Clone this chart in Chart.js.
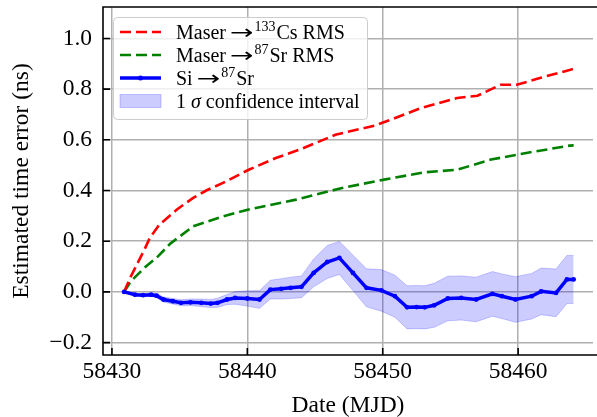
<!DOCTYPE html>
<html><head><meta charset="utf-8">
<script src="https://cdn.jsdelivr.net/npm/chart.js@4.4.0/dist/chart.umd.min.js"></script>
<style>html,body{margin:0;padding:0;overflow:hidden;background:#fff}canvas{display:block}</style>
</head><body><canvas id="c" width="597" height="417"></canvas>
<script>
// ---- data ----
const siDates  = [58430.9,58431.7,58432.3,58432.9,58433.3,58433.8,58434.5,58435.1,58435.8,58436.6,58437.3,58437.8,58438.5,58439.1,58440.0,58440.9,58441.7,58442.5,58443.2,58444.0,58444.9,58445.9,58446.8,58447.8,58448.8,58449.9,58450.9,58451.8,58452.5,58453.1,58453.8,58454.8,58455.8,58456.9,58458.1,58458.8,58459.8,58461.0,58461.7,58462.8,58463.6,58464.1];
const siValues = [0.000,-0.011,-0.013,-0.011,-0.015,-0.030,-0.037,-0.043,-0.041,-0.043,-0.046,-0.043,-0.030,-0.024,-0.026,-0.030,0.009,0.012,0.016,0.020,0.075,0.118,0.134,0.075,0.016,0.006,-0.017,-0.061,-0.060,-0.061,-0.053,-0.026,-0.024,-0.030,-0.008,-0.017,-0.030,-0.017,0.002,-0.004,0.049,0.049];
const ciUpper  = [0.000,-0.006,-0.007,-0.004,-0.007,-0.020,-0.026,-0.031,-0.028,-0.028,-0.030,-0.025,-0.010,0.001,0.004,0.005,0.046,0.052,0.058,0.063,0.130,0.183,0.199,0.145,0.091,0.088,0.066,0.024,0.025,0.024,0.034,0.062,0.063,0.058,0.080,0.071,0.060,0.073,0.094,0.090,0.144,0.144];
const ciLower  = [0.000,-0.016,-0.019,-0.018,-0.023,-0.040,-0.048,-0.055,-0.054,-0.058,-0.062,-0.061,-0.050,-0.049,-0.056,-0.065,-0.028,-0.028,-0.026,-0.023,0.020,0.053,0.069,0.005,-0.059,-0.076,-0.100,-0.146,-0.145,-0.146,-0.140,-0.114,-0.111,-0.118,-0.096,-0.105,-0.120,-0.107,-0.090,-0.098,-0.046,-0.046];
const csDates  = [58430.9,58431.4,58431.9,58432.4,58432.8,58433.5,58434.8,58436.0,58437.0,58438.2,58440.1,58442.1,58444.0,58446.5,58449.4,58450.6,58452.8,58455.5,58457.0,58458.7,58459.9,58461.6,58463.8,58464.1];
const csRms    = [0.000,0.061,0.114,0.167,0.213,0.265,0.325,0.371,0.401,0.430,0.482,0.528,0.564,0.620,0.656,0.679,0.725,0.765,0.774,0.817,0.817,0.844,0.875,0.880];
const srDates  = [58430.9,58431.4,58432.4,58433.4,58434.3,58436.0,58438.2,58440.1,58443.6,58447.0,58450.1,58453.1,58455.5,58458.0,58460.6,58463.8,58464.1];
const srRms    = [0.000,0.042,0.095,0.140,0.190,0.259,0.298,0.325,0.364,0.410,0.443,0.472,0.482,0.522,0.548,0.577,0.578];
const xTicks = [58430, 58440, 58450, 58460];
const yTicks = [-0.2, 0.0, 0.2, 0.4, 0.6, 0.8, 1.0];

const FONT = "'Liberation Serif', 'Times New Roman', serif";
Chart.defaults.font.family = FONT;
Chart.defaults.color = '#000';

const pts = (xs, ys) => xs.map((x, i) => ({x: x, y: ys[i]}));
const BAND = 'rgba(0,0,255,0.2)';

function drawLegend(ctx) {
  ctx.save();
  const bx = 113.5, by = 17.5, bw = 254, bh = 102, r = 4;
  ctx.beginPath();
  ctx.moveTo(bx + r, by); ctx.lineTo(bx + bw - r, by); ctx.arcTo(bx + bw, by, bx + bw, by + r, r);
  ctx.lineTo(bx + bw, by + bh - r); ctx.arcTo(bx + bw, by + bh, bx + bw - r, by + bh, r);
  ctx.lineTo(bx + r, by + bh); ctx.arcTo(bx, by + bh, bx, by + bh - r, r);
  ctx.lineTo(bx, by + r); ctx.arcTo(bx, by, bx + r, by, r); ctx.closePath();
  ctx.fillStyle = 'rgba(255,255,255,0.8)'; ctx.fill();
  ctx.strokeStyle = '#cccccc'; ctx.lineWidth = 1; ctx.stroke();

  const hx1 = 120, hx2 = 161, tx = 176;
  const rows = [32, 55, 78, 101];
  ctx.lineWidth = 2.6; ctx.setLineDash([11, 5]);
  ctx.strokeStyle = 'red'; ctx.beginPath(); ctx.moveTo(hx1, rows[0]); ctx.lineTo(hx2, rows[0]); ctx.stroke();
  ctx.strokeStyle = 'green'; ctx.beginPath(); ctx.moveTo(hx1, rows[1]); ctx.lineTo(hx2, rows[1]); ctx.stroke();
  ctx.setLineDash([]);
  ctx.strokeStyle = 'blue'; ctx.lineWidth = 3.5; ctx.beginPath(); ctx.moveTo(hx1, rows[2]); ctx.lineTo(hx2, rows[2]); ctx.stroke();
  ctx.fillStyle = 'blue'; ctx.beginPath(); ctx.arc((hx1 + hx2) / 2, rows[2], 2.5, 0, Math.PI * 2); ctx.fill();
  ctx.fillStyle = BAND; ctx.strokeStyle = BAND; ctx.lineWidth = 1;
  ctx.fillRect(hx1, rows[3] - 6.5, hx2 - hx1, 13); ctx.strokeRect(hx1, rows[3] - 6.5, hx2 - hx1, 13);

  ctx.fillStyle = '#000'; ctx.textBaseline = 'alphabetic'; ctx.textAlign = 'left';
  const main = '20px ' + FONT, sup = '14px ' + FONT, ital = 'italic 20px ' + FONT;
  const arrowFont = "20px 'DejaVu Sans'";
  function seq(parts, y) {
    let x = tx;
    parts.forEach(p => {
      ctx.font = p[1];
      if (p[4]) {
        const w = ctx.measureText(p[0]).width;
        ctx.save(); ctx.translate(x, y + (p[2] || 0)); ctx.scale(p[4], 1);
        ctx.fillText(p[0], 0, 0); ctx.restore();
        x += w * p[4] + (p[3] || 0);
      } else {
        ctx.fillText(p[0], x, y + (p[2] || 0));
        x += ctx.measureText(p[0]).width + (p[3] || 0);
      }
    });
  }
  seq([['Maser', main, 0, 4], ['\u2192', arrowFont, 0, 1, 1.4], ['133', sup, -8.5, 1], ['Cs RMS', main]], rows[0] + 7);
  seq([['Maser', main, 0, 4], ['\u2192', arrowFont, 0, 1, 1.4], ['87', sup, -8.5, 1], ['Sr RMS', main]], rows[1] + 7);
  seq([['Si', main, 0, 4], ['\u2192', arrowFont, 0, 1, 1.4], ['87', sup, -8.5, 1], ['Sr', main]], rows[2] + 7);
  seq([['1 ', main], ['\u03c3', ital, 0, 0], [' confidence interval', main]], rows[3] + 7);
  ctx.restore();
}

const framePlugin = {
  id: 'frame',
  afterDatasetsDraw(chart) {
    const {ctx, chartArea: a, scales: {x, y}} = chart;
    ctx.save();
    ctx.strokeStyle = '#000'; ctx.lineWidth = 1.6;
    ctx.beginPath();
    x.ticks.forEach(t => { const px = x.getPixelForValue(t.value); ctx.moveTo(px, a.bottom); ctx.lineTo(px, a.bottom - 7); });
    y.ticks.forEach(t => { const py = y.getPixelForValue(t.value); ctx.moveTo(a.left, py); ctx.lineTo(a.left + 7, py); });
    // spines: top, left, bottom (the right spine lies just outside the visible window)
    ctx.moveTo(chart.width + 2, a.top); ctx.lineTo(a.left, a.top); ctx.lineTo(a.left, a.bottom); ctx.lineTo(chart.width + 2, a.bottom);
    ctx.stroke();
    ctx.restore();
    drawLegend(ctx);
  }
};

new Chart(document.getElementById('c'), {
  type: 'line',
  data: {
    datasets: [
      { label: 'Maser \u2192133Cs RMS', data: pts(csDates, csRms), borderColor: 'red', borderWidth: 2.6, borderDash: [11, 5], pointRadius: 0, fill: false, tension: 0, order: 2 },
      { label: 'Maser \u219287Sr RMS', data: pts(srDates, srRms), borderColor: 'green', borderWidth: 2.6, borderDash: [11, 5], pointRadius: 0, fill: false, tension: 0, order: 3 },
      { label: 'Si \u219287Sr', data: pts(siDates, siValues), borderColor: 'blue', backgroundColor: 'blue', borderWidth: 3.5, pointRadius: 2.4, pointBorderWidth: 0, pointBackgroundColor: 'blue', fill: false, tension: 0, order: 1 },
      { label: '1 \u03c3 confidence interval', data: pts(siDates, ciLower), borderColor: BAND, backgroundColor: BAND, borderWidth: 1, pointRadius: 0, fill: '+1', tension: 0, order: 4 },
      { label: 'upper', data: pts(siDates, ciUpper), borderColor: BAND, backgroundColor: BAND, borderWidth: 1, pointRadius: 0, fill: false, tension: 0, order: 5 }
    ]
  },
  options: {
    responsive: false, animation: false, devicePixelRatio: 1,
    layout: { padding: { left: 0, top: 7, right: 0, bottom: 0 } },
    plugins: { legend: { display: false }, tooltip: { enabled: false } },
    scales: {
      x: {
        type: 'linear', min: 58429.34, max: 58465.53,
        afterFit(s) { s.height = 62; s.paddingLeft = 0; s.paddingRight = 0; },
        afterBuildTicks(s) { s.ticks = xTicks.map(v => ({value: v})); },
        grid: { color: '#b0b0b0', lineWidth: 1.5, drawTicks: false },
        border: { display: false },
        ticks: { font: { size: 23.5 }, color: '#000', padding: 3, maxRotation: 0, autoSkip: false, callback: v => String(v) },
        title: { display: true, text: 'Date (MJD)', font: { size: 23.5 }, color: '#000', padding: { top: 0, bottom: -3 } }
      },
      y: {
        type: 'linear', min: -0.249, max: 1.124,
        afterFit(s) { s.width = 103; s.paddingTop = 0; s.paddingBottom = 0; },
        afterBuildTicks(s) { s.ticks = yTicks.map(v => ({value: v})); },
        grid: { color: '#b0b0b0', lineWidth: 1.5, drawTicks: false },
        border: { display: false },
        ticks: { font: { size: 23.5 }, color: '#000', padding: 11, callback: v => v.toFixed(1).replace('-', '\u2212') },
        title: { display: true, text: 'Estimated time error (ns)', font: { size: 23.5 }, color: '#000', padding: { top: 8, bottom: 0 } }
      }
    }
  },
  plugins: [framePlugin]
});
</script></body></html>
